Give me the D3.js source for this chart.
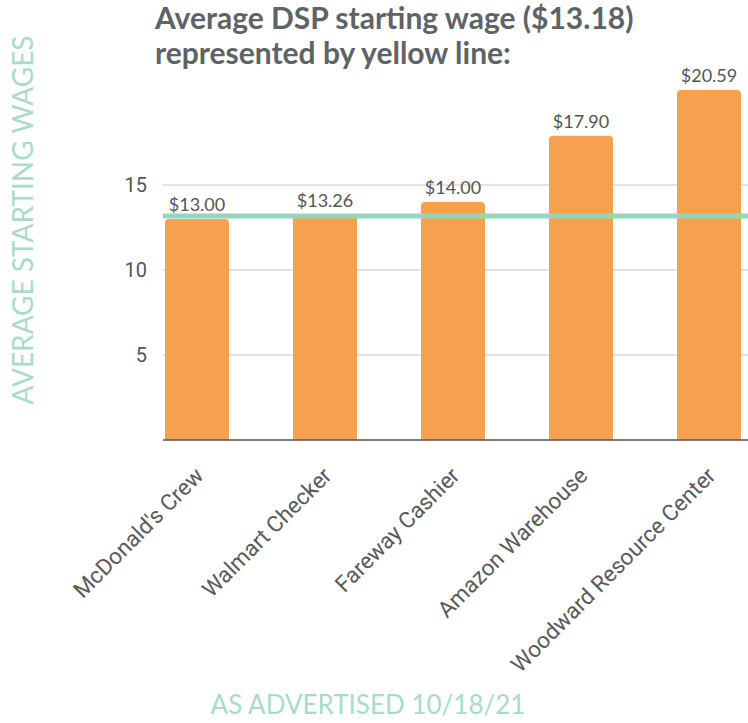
<!DOCTYPE html>
<html>
<head>
<meta charset="utf-8">
<script src="https://cdn.jsdelivr.net/npm/d3@7"></script>
<style>
  body { margin: 0; background: #fff; }
  text { font-family: Lato, "Open Sans", sans-serif; }
</style>
</head>
<body>
<div id="chart"></div>
<script>
const jobs = ["McDonald's Crew", "Walmart Checker", "Fareway Cashier", "Amazon Warehouse", "Woodward Resource Center"];
const wages = [13.00, 13.26, 14.00, 17.90, 20.59];
const wageLabels = ["$13.00", "$13.26", "$14.00", "$17.90", "$20.59"];
const yTicks = [5, 10, 15];
const averageWage = 13.18;

const W = 748, H = 723;
const svg = d3.select("#chart").append("svg")
    .attr("width", W).attr("height", H);

let x = d3.scaleBand().domain(jobs).range([165, 741]).paddingInner(0.5).paddingOuter(0);
let y = d3.scaleLinear().domain([0, 20]).range([440, 100]);

// gridlines
svg.append("g")
    .selectAll("line")
    .data(yTicks)
    .join("line")
    .attr("x1", 163).attr("x2", W)
    .attr("y1", d => y(d)).attr("y2", d => y(d))
    .attr("stroke", "#c8c8c8")
    .attr("stroke-width", 1);

// y tick labels
svg.append("g")
    .selectAll("text")
    .data(yTicks)
    .join("text")
    .attr("x", 147)
    .attr("y", d => y(d))
    .attr("dy", "0.35em")
    .attr("text-anchor", "end")
    .style("font-family", "Roboto, sans-serif")
    .style("font-size", "20px")
    .style("fill", "#555")
    .text(d => d);

// bars
svg.append("g")
    .selectAll("path")
    .data(jobs)
    .join("path")
    .attr("d", (d, i) => {
        let x0 = x(d), w = x.bandwidth(), y0 = y(wages[i]), b = y(0), r = 4;
        return `M${x0},${b}V${y0 + r}Q${x0},${y0} ${x0 + r},${y0}H${x0 + w - r}Q${x0 + w},${y0} ${x0 + w},${y0 + r}V${b}Z`;
    })
    .attr("fill", "#f7a04f");

// baseline
svg.append("line")
    .attr("x1", 163).attr("x2", W)
    .attr("y1", y(0)).attr("y2", y(0))
    .attr("stroke", "#555").attr("stroke-width", 1.5);

// average line
svg.append("line")
    .attr("x1", 163).attr("x2", W)
    .attr("y1", y(averageWage)).attr("y2", y(averageWage))
    .attr("stroke", "#98d6b9").attr("stroke-width", 5);

// value labels
svg.append("g")
    .selectAll("text")
    .data(jobs)
    .join("text")
    .attr("x", d => x(d) + x.bandwidth() / 2)
    .attr("y", (d, i) => y(wages[i]) - 8)
    .attr("text-anchor", "middle")
    .style("font-size", "18px")
    .style("fill", "#555")
    .text((d, i) => wageLabels[i]);

// x labels, rotated
svg.append("g")
    .selectAll("text")
    .data(jobs)
    .join("text")
    .attr("transform", d => `translate(${x(d) + x.bandwidth() / 2 + 8},477) rotate(-45)`)
    .attr("text-anchor", "end")
    .style("font-family", "Roboto, sans-serif")
    .style("font-size", "22.5px")
    .style("fill", "#5a5a5a")
    .text(d => d);

// title
const title = svg.append("text")
    .attr("x", 155).attr("y", 29)
    .style("font-size", "30px")
    .style("font-weight", "bold")
    .style("fill", "#5e6366");
title.append("tspan").attr("x", 155).text("Average DSP starting wage ($13.18)");
title.append("tspan").attr("x", 155).attr("dy", 35).text("represented by yellow line:");

// axis titles
svg.append("text")
    .attr("transform", "translate(33,220) rotate(-90)")
    .attr("text-anchor", "middle")
    .style("font-size", "28px")
    .style("fill", "#a8dcc6")
    .text("AVERAGE STARTING WAGES");

svg.append("text")
    .attr("x", 368).attr("y", 714)
    .attr("text-anchor", "middle")
    .style("font-size", "26px")
    .style("fill", "#a8dcc6")
    .text("AS ADVERTISED 10/18/21");
</script>
</body>
</html>
